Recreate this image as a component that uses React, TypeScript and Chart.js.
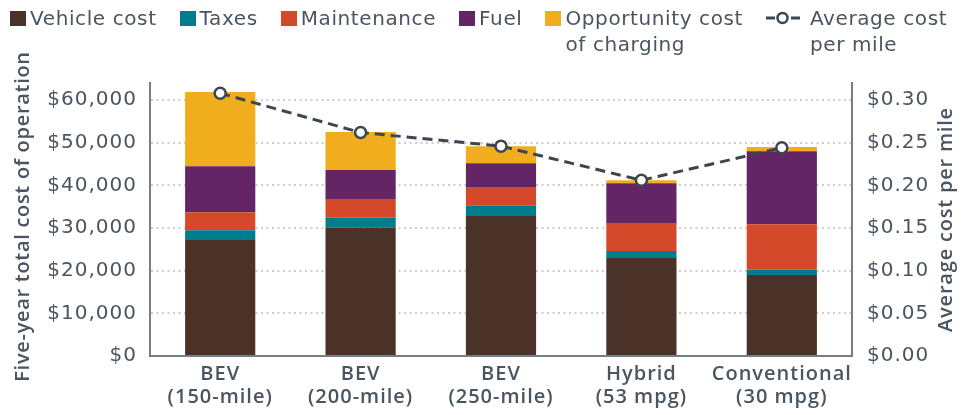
import React, { useEffect, useRef } from "react";
import { Chart, registerables } from "chart.js";

Chart.register(...registerables);

// ---- data ----
const categories: string[][] = [
  ["BEV", "(150-mile)"],
  ["BEV", "(200-mile)"],
  ["BEV", "(250-mile)"],
  ["Hybrid", "(53 mpg)"],
  ["Conventional", "(30 mpg)"],
];
const vehicleCost = [27200, 30100, 32800, 23000, 19000];
const taxes = [2300, 2300, 2400, 1600, 1200];
const maintenance = [4200, 4400, 4400, 6600, 10700];
const fuel = [10800, 6800, 5600, 9300, 17100];
const opportunityCost = [17400, 8900, 4000, 700, 1000];
const avgCostPerMile = [0.308, 0.262, 0.246, 0.206, 0.244];

const barLabels = ["Vehicle cost", "Taxes", "Maintenance", "Fuel", "Opportunity cost\nof charging"];
const lineLabel = "Average cost\nper mile";
const barColors = ["#4B3228", "#007C8F", "#D4492A", "#642566", "#F0AE1E"];
const barSeries = [vehicleCost, taxes, maintenance, fuel, opportunityCost];

const leftTitle = "Five-year total cost of operation";
const rightTitle = "Average cost per mile";
const leftTicks = [0, 10000, 20000, 30000, 40000, 50000, 60000];
const rightTicks = [0, 0.05, 0.1, 0.15, 0.2, 0.25, 0.3];
const leftMax = 64000;
const rightMax = 0.32;

const TEXT = "#4A5560";
const AXIS = "#767F88";
const LINE = "#3C4650";
const GRID = "#CDCDCD";

const titlePlugin = {
  id: "axisTitles",
  beforeDraw(chart: any) {
    chart.ctx.letterSpacing = "1px";
  },
  afterDraw(chart: any) {
    const ctx = chart.ctx as CanvasRenderingContext2D;
    const { top, bottom } = chart.chartArea;
    const mid = (top + bottom) / 2;
    ctx.save();
    ctx.fillStyle = TEXT;
    ctx.font = '600 20px "Open Sans"';
    ctx.textAlign = "center";
    ctx.textBaseline = "alphabetic";
    ctx.save();
    (ctx as any).letterSpacing = "0.7px";
    ctx.translate(29, mid - 3);
    ctx.rotate(-Math.PI / 2);
    ctx.fillText(leftTitle, 0, 0);
    ctx.restore();
    ctx.save();
    (ctx as any).letterSpacing = "0.8px";
    ctx.translate(952, mid);
    ctx.rotate(-Math.PI / 2);
    ctx.fillText(rightTitle, 0, 0);
    ctx.restore();
    ctx.restore();
  },
};

function Legend() {
  const itemStyle: React.CSSProperties = { display: "flex", alignItems: "flex-start", marginRight: 23 };
  const textStyle: React.CSSProperties = {
    marginTop: 5,
    whiteSpace: "pre-line",
    lineHeight: "26px",
    fontSize: 20,
    letterSpacing: "0.6px",
    fontFamily: '"DejaVu Sans", sans-serif',
    color: TEXT,
  };
  return (
    <div style={{ position: "absolute", left: 10, top: 0, display: "flex", alignItems: "flex-start" }}>
      {barLabels.map((l, i) => (
        <div key={l} style={itemStyle}>
          <div style={{ width: 16, height: 15, marginTop: 11, marginRight: 4, background: barColors[i] }} />
          <div style={textStyle}>{l}</div>
        </div>
      ))}
      <div style={itemStyle}>
        <svg width={34} height={16} style={{ marginTop: 10, marginRight: 10 }}>
          <line x1={0} y1={8} x2={9} y2={8} stroke={LINE} strokeWidth={3} />
          <circle cx={16.5} cy={8} r={5} fill="#fff" stroke={LINE} strokeWidth={2.5} />
          <line x1={25} y1={8} x2={34} y2={8} stroke={LINE} strokeWidth={3} />
        </svg>
        <div style={textStyle}>{lineLabel}</div>
      </div>
    </div>
  );
}

export default function App() {
  const ref = useRef<HTMLCanvasElement>(null);
  useEffect(() => {
    if (!ref.current) return;
    const datasets: any[] = barSeries.map((data, i) => ({
      type: "bar",
      label: barLabels[i],
      data,
      backgroundColor: barColors[i],
      borderWidth: 0,
      yAxisID: "y",
      order: 1,
      categoryPercentage: 1,
      barPercentage: 0.5,
    }));
    datasets.push({
      type: "line",
      label: lineLabel,
      data: avgCostPerMile,
      yAxisID: "y1",
      order: 0,
      borderColor: LINE,
      borderWidth: 3,
      borderDash: [10, 6],
      pointRadius: 5.5,
      pointBorderWidth: 2.5,
      pointBackgroundColor: "#FFFFFF",
      pointBorderColor: LINE,
      fill: false,
      tension: 0,
    });
    const chart = new Chart(ref.current, {
      type: "bar",
      data: { labels: categories as any, datasets },
      plugins: [titlePlugin],
      options: {
        responsive: false,
        animation: false,
        layout: { padding: { top: 83, left: 0, right: 0, bottom: 0 } },
        plugins: { legend: { display: false }, tooltip: { enabled: false } },
        scales: {
          x: {
            stacked: true,
            grid: { display: false, drawTicks: false },
            border: { display: true, color: AXIS, width: 2 },
            ticks: {
              color: TEXT,
              font: { family: '"Open Sans"', size: 20, weight: 600, lineHeight: 1.15 },
              padding: 7,
              maxRotation: 0,
              autoSkip: false,
            },
            afterFit(s: any) {
              s.height = 59;
            },
          },
          y: {
            stacked: true,
            position: "left",
            min: 0,
            max: leftMax,
            grid: { color: GRID, lineWidth: 2, drawTicks: false },
            border: { display: true, color: AXIS, width: 2, dash: [2, 3.5] },
            ticks: {
              color: TEXT,
              padding: 13,
              font: { family: '"DejaVu Sans"', size: 20 },
              callback: (v: any) => "$" + Number(v).toLocaleString("en-US"),
            },
            afterBuildTicks(s: any) {
              s.ticks = leftTicks.map((value) => ({ value }));
            },
            afterFit(s: any) {
              s.width = 150;
            },
          },
          y1: {
            position: "right",
            min: 0,
            max: rightMax,
            grid: { display: false, drawTicks: false },
            border: { display: true, color: AXIS, width: 2 },
            ticks: {
              color: TEXT,
              padding: 15,
              font: { family: '"DejaVu Sans"', size: 20 },
              callback: (v: any) => "$" + Number(v).toFixed(2),
            },
            afterBuildTicks(s: any) {
              s.ticks = rightTicks.map((value) => ({ value }));
            },
            afterFit(s: any) {
              s.width = 124;
            },
          },
        },
      } as any,
    });
    return () => chart.destroy();
  }, []);
  return (
    <div style={{ position: "absolute", left: 0, top: 0, width: 976, height: 415 }}>
      <canvas ref={ref} width={976} height={415} style={{ position: "absolute", left: 0, top: 0 }} />
      <Legend />
    </div>
  );
}
